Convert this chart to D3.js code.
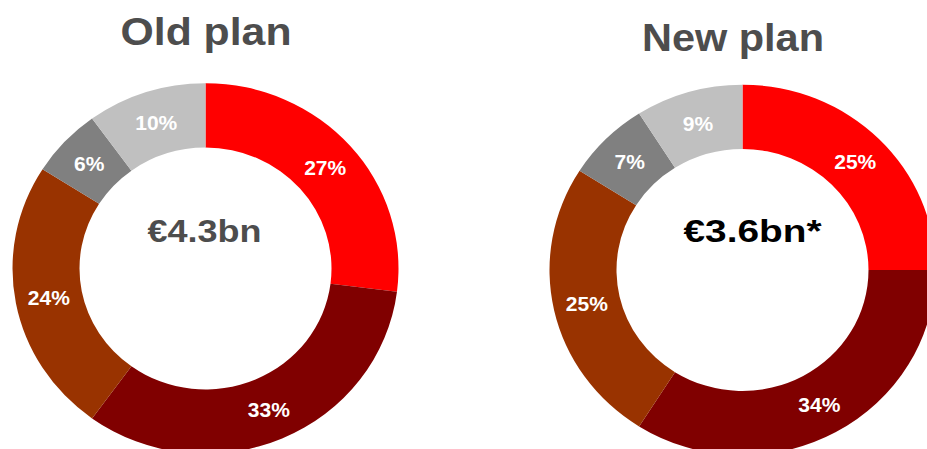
<!DOCTYPE html>
<html>
<head>
<meta charset="utf-8">
<script src="https://cdn.jsdelivr.net/npm/d3@7"></script>
<style>
  body { margin: 0; background: #fff; }
  svg { display: block; font-family: "Liberation Sans", Arial, sans-serif; }
</style>
</head>
<body>
<svg id="chart" width="927" height="449"></svg>
<script>
// data
const planTitles = ["Old plan", "New plan"];
const planTotals = ["€4.3bn", "€3.6bn*"];
const oldShares = [27, 33, 24, 6, 10];
const newShares = [25, 34, 25, 7, 9];

const sliceColors = ["#ff0000", "#800000", "#993300", "#808080", "#c0c0c0"];

let svg = d3.select("#chart");

// the donuts are a bit squashed vertically in the original
let yRatio = 0.96;
let outerR = 193;
let innerR = 126;

let layouts = [
  { shares: oldShares, cx: 205.5, cy: 268.5, titleX: 206, titleY: 44.5, titleW: 171,
    totalX: 204.5, totalW: 114, totalColor: "#4d4d4d" },
  { shares: newShares, cx: 742.5, cy: 270, titleX: 733, titleY: 50.5, titleW: 182,
    totalX: 752.5, totalW: 138, totalColor: "#000000" }
];

let pie = d3.pie()
    .sort(null)
    .value(d => d);

let arc = d3.arc()
    .innerRadius(innerR)
    .outerRadius(outerR);

let labelArc = d3.arc()
    .innerRadius((innerR + outerR) / 2)
    .outerRadius((innerR + outerR) / 2);

layouts.forEach(function (p, i) {

  let g = svg.append("g")
    .attr("transform", `translate(${p.cx},${p.cy})`);

  let arcs = pie(p.shares);

  g.append("g")
    .attr("transform", `scale(1,${yRatio})`)
    .selectAll("path")
    .data(arcs)
    .join("path")
    .attr("d", arc)
    .style("fill", (d, j) => sliceColors[j]);

  g.selectAll(".pct")
    .data(arcs)
    .join("text")
    .attr("class", "pct")
    .attr("text-anchor", "middle")
    .attr("x", d => labelArc.centroid(d)[0])
    .attr("y", d => labelArc.centroid(d)[1] * yRatio)
    .attr("dy", "0.36em")
    .style("fill", "#ffffff")
    .style("font-size", "21px")
    .style("font-weight", "bold")
    .text(d => d.data + "%");

  svg.append("text")
    .attr("text-anchor", "middle")
    .attr("x", p.titleX)
    .attr("y", p.titleY)
    .attr("textLength", p.titleW)
    .attr("lengthAdjust", "spacingAndGlyphs")
    .style("fill", "#4d4d4d")
    .style("font-size", "39px")
    .style("font-weight", "bold")
    .text(planTitles[i]);

  svg.append("text")
    .attr("text-anchor", "middle")
    .attr("x", p.totalX)
    .attr("y", 242.3)
    .attr("textLength", p.totalW)
    .attr("lengthAdjust", "spacingAndGlyphs")
    .style("fill", p.totalColor)
    .style("font-size", "31px")
    .style("font-weight", "bold")
    .text(planTotals[i]);
});
</script>
</body>
</html>
